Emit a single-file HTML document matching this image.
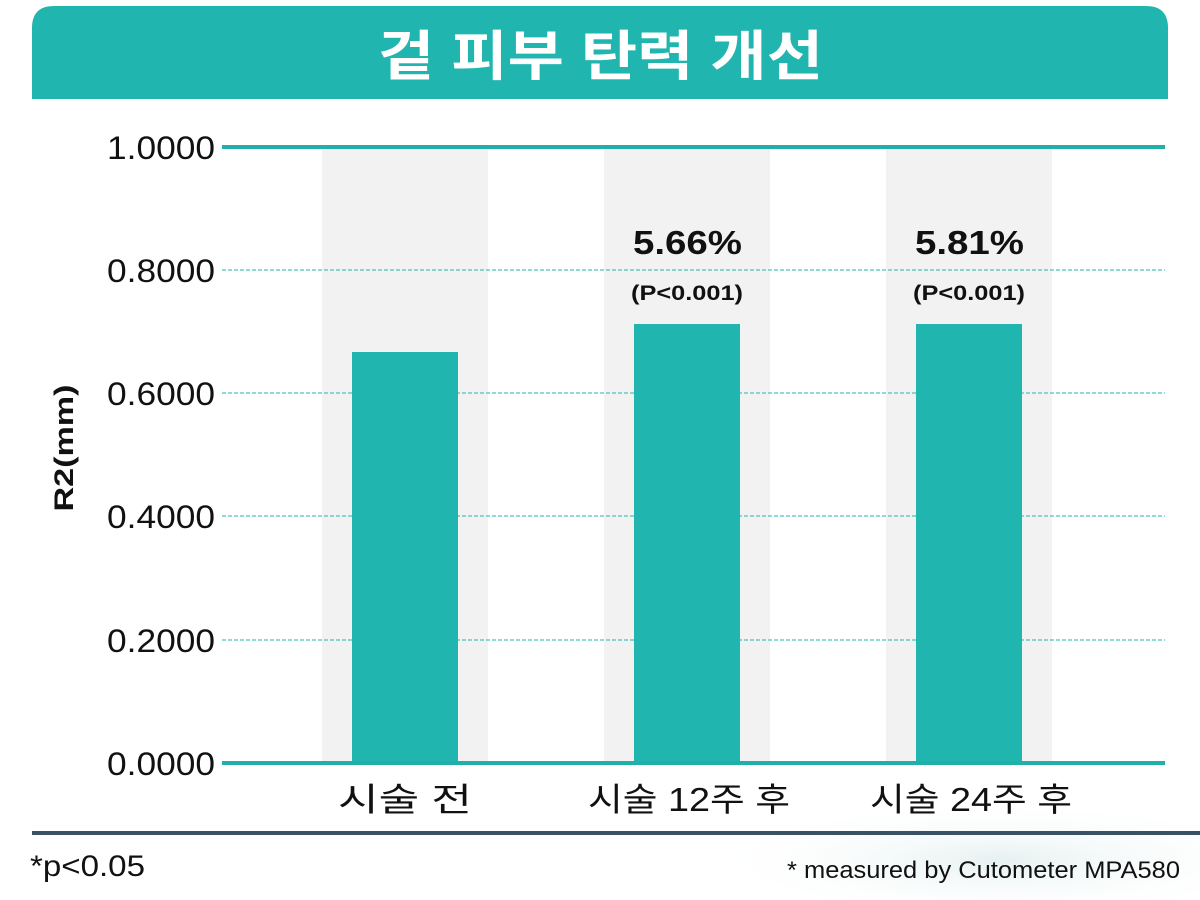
<!DOCTYPE html>
<html><head><meta charset="utf-8"><style>
body{margin:0;width:1200px;height:900px;background:#fff;overflow:hidden;font-family:"Liberation Sans","Noto Sans CJK KR",sans-serif}
</style></head><body>
<svg width="1200" height="900" xmlns="http://www.w3.org/2000/svg" style="position:absolute;left:0;top:0">
<defs><radialGradient id="w" cx="0.5" cy="0.5" r="0.5"><stop offset="0" stop-color="#e6f1f1"/><stop offset="1" stop-color="#ffffff" stop-opacity="0"/></radialGradient></defs>
<ellipse cx="1000" cy="860" rx="300" ry="60" fill="url(#w)"/>
<path d="M32,99 V28 Q32,6 54,6 H1146 Q1168,6 1168,28 V99 Z" fill="#20b5ae"/>
<text x="378" y="75" textLength="445" lengthAdjust="spacingAndGlyphs" font-size="54" font-weight="bold" fill="#fff">겉 피부 탄력 개선</text>
<g fill="#f2f2f2"><rect x="322" y="147" width="166" height="616"/><rect x="604" y="147" width="166" height="616"/><rect x="886" y="147" width="166" height="616"/></g>
<g stroke="#20b5ae" stroke-width="1" stroke-dasharray="4,2">
<line x1="222" y1="270" x2="1165" y2="270"/><line x1="222" y1="393" x2="1165" y2="393"/><line x1="222" y1="516" x2="1165" y2="516"/><line x1="222" y1="640" x2="1165" y2="640"/></g>
<g fill="#20b5ae"><rect x="352" y="352" width="106" height="411"/><rect x="634" y="324" width="106" height="439"/><rect x="916" y="324" width="106" height="439"/></g>
<line x1="222" y1="147" x2="1165" y2="147" stroke="#20b0a8" stroke-width="4"/>
<line x1="222" y1="763" x2="1165" y2="763" stroke="#20b0a8" stroke-width="4"/>
<g font-size="32" fill="#111">
<text x="107" y="159" textLength="108" lengthAdjust="spacingAndGlyphs">1.0000</text>
<text x="107" y="282" textLength="108" lengthAdjust="spacingAndGlyphs">0.8000</text>
<text x="107" y="405" textLength="108" lengthAdjust="spacingAndGlyphs">0.6000</text>
<text x="107" y="528" textLength="108" lengthAdjust="spacingAndGlyphs">0.4000</text>
<text x="107" y="652" textLength="108" lengthAdjust="spacingAndGlyphs">0.2000</text>
<text x="107" y="775" textLength="108" lengthAdjust="spacingAndGlyphs">0.0000</text></g>
<text transform="translate(73,448) rotate(-90)" text-anchor="middle" font-size="27" font-weight="bold" fill="#111" textLength="127" lengthAdjust="spacingAndGlyphs">R2(mm)</text>
<g font-weight="bold" fill="#111">
<text x="633" y="254" font-size="33" textLength="109" lengthAdjust="spacingAndGlyphs">5.66%</text>
<text x="631" y="300" font-size="21" textLength="112" lengthAdjust="spacingAndGlyphs">(P&lt;0.001)</text>
<text x="915" y="254" font-size="33" textLength="109" lengthAdjust="spacingAndGlyphs">5.81%</text>
<text x="913" y="300" font-size="21" textLength="112" lengthAdjust="spacingAndGlyphs">(P&lt;0.001)</text></g>
<g font-size="33" fill="#111">
<text x="338" y="811" textLength="134" lengthAdjust="spacingAndGlyphs">시술 전</text>
<text x="588" y="811" textLength="202" lengthAdjust="spacingAndGlyphs">시술 12주 후</text>
<text x="870" y="811" textLength="202" lengthAdjust="spacingAndGlyphs">시술 24주 후</text></g>
<line x1="32" y1="833" x2="1200" y2="833" stroke="#395264" stroke-width="4"/>
<text x="30" y="876" font-size="30" fill="#111" textLength="115" lengthAdjust="spacingAndGlyphs">*p&lt;0.05</text>
<text x="787" y="878" font-size="24" fill="#111" textLength="393" lengthAdjust="spacingAndGlyphs">* measured by Cutometer MPA580</text>
</svg>
</body></html>
